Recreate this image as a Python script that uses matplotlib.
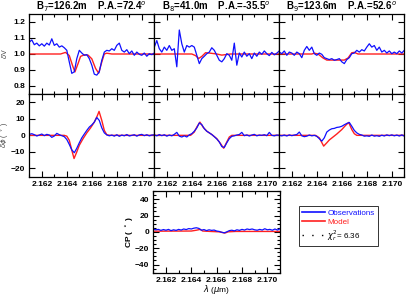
import numpy as np
import matplotlib
matplotlib.use("Agg")
import matplotlib.pyplot as plt
from matplotlib.lines import Line2D
from matplotlib.ticker import MultipleLocator

plt.rcParams['font.family'] = ['Liberation Sans', 'DejaVu Sans']

# wavelength grid of the observations (micron)
lam = np.round(np.linspace(2.1610, 2.1710, 51), 4)

titles = ["B$_7$=126.2m    P.A.=72.4$^o$",
          "B$_8$=41.0m    P.A.=-35.5$^o$",
          "B$_9$=123.6m    P.A.=52.6$^o$"]

# differential visibility, observed
v_obs_1 = [1.074, 1.088, 1.058, 1.068, 1.051, 1.064, 1.049, 1.068, 1.056, 1.095,
           1.054, 1.064, 1.043, 1.051, 1.039, 1.023, 0.950, 0.879, 0.889, 0.971,
           1.023, 1.006, 0.992, 0.996, 0.971, 0.930, 0.874, 0.868, 0.889, 0.961,
           1.012, 1.023, 1.019, 1.033, 1.023, 1.054, 1.068, 1.023, 1.012, 1.027,
           1.002, 1.019, 0.992, 1.012, 0.998, 0.992, 1.006, 0.986, 1.002, 0.996,
           1.006]
v_obs_2 = [1.043, 1.084, 1.033, 1.012, 1.043, 1.023, 1.053, 1.023, 1.033, 0.920,
           1.150, 1.064, 1.012, 1.053, 1.043, 1.053, 1.043, 0.992, 0.940, 0.971,
           0.986, 1.002, 1.012, 1.039, 1.023, 0.992, 0.961, 0.951, 0.971, 1.002,
           0.992, 0.961, 1.068, 0.930, 1.006, 0.981, 1.012, 0.986, 1.002, 0.971,
           1.006, 0.986, 1.012, 0.998, 1.019, 1.002, 0.990, 1.010, 0.995, 1.005,
           1.019]
v_obs_3 = [1.012, 1.002, 1.019, 0.992, 1.012, 1.006, 0.992, 1.012, 1.002, 0.977,
           1.023, 1.047, 1.023, 1.043, 1.002, 0.992, 1.006, 0.998, 0.977, 0.971,
           0.965, 0.971, 0.961, 0.965, 0.971, 0.951, 0.940, 0.965, 0.977, 1.002,
           1.006, 1.023, 1.012, 1.027, 1.019, 1.043, 1.064, 1.043, 1.053, 1.023,
           1.043, 1.012, 1.023, 1.006, 1.019, 1.002, 1.012, 1.002, 1.019, 1.006,
           1.023]

# differential visibility, model
v_mod_lam_1 = [2.1610, 2.1635, 2.1639, 2.1642, 2.16445, 2.16465, 2.1649, 2.1651, 2.1654,
               2.1657, 2.1660, 2.1663, 2.16655, 2.1668, 2.1670, 2.1672, 2.1676, 2.1710]
v_mod_1 = [1.0, 1.0, 1.01, 0.99, 0.93, 0.888, 0.94, 0.985, 0.995,
           0.993, 0.97, 0.91, 0.88, 0.95, 1.0, 1.005, 1.0, 1.0]
v_mod_lam_2 = [2.1610, 2.1640, 2.1643, 2.16455, 2.1648, 2.1651, 2.1654, 2.1660,
               2.1664, 2.1668, 2.1671, 2.1710]
v_mod_2 = [1.0, 1.0, 0.99, 0.972, 0.985, 1.008, 1.006, 1.0, 0.993, 0.997, 1.0, 1.0]
v_mod_lam_3 = [2.1610, 2.1636, 2.1638, 2.1641, 2.1645, 2.1648, 2.1662, 2.1665,
               2.1668, 2.1670, 2.1673, 2.1710]
v_mod_3 = [1.0, 1.0, 1.005, 1.0, 0.975, 0.962, 0.962, 0.975, 1.008, 1.01, 1.0, 1.0]

# differential phase (deg), observed
p_obs_1 = [0.6, 1.0, 0.4, -0.4, 0.2, 0.8, -0.2, 0.6, 0.2, -1.2,
           -0.4, 1.2, 0.4, -0.2, -0.8, -2.5, -5.5, -8.8, -10.5, -7.8,
           -4.5, -1.5, 0.8, 3.0, 5.0, 6.3, 8.0, 10.8, 9.0, 4.5,
           1.5, 0.3, -0.3, 0.2, -0.5, 0.4, -0.6, 0.2, -0.3, 0.5,
           -0.4, 0.0, 0.4, -0.5, 0.3, 0.6, -0.2, 0.4, -0.3, 0.2,
           0.3]
p_obs_2 = [0.3, -0.3, 0.5, -0.2, 0.4, -0.5, 0.2, -0.3, 0.6, 1.8,
           -0.5, -1.0, -0.3, -1.0, 0.3, 1.0, 2.5, 4.5, 7.5, 6.5,
           4.0, 2.5, 1.5, 0.5, -0.8, -2.2, -4.0, -6.8, -7.3, -4.5,
           -2.0, -0.6, -0.3, 0.2, 0.5, 1.8, -0.2, 0.3, -0.4, 0.2,
           0.6, -0.3, 0.2, 0.0, 0.4, -0.2, 1.8, 0.0, -0.3, 0.2,
           0.0]
p_obs_3 = [0.0, -0.3, 0.2, -0.4, 0.3, -0.2, 0.2, 0.5, 2.0, -0.3,
           -0.8, -0.5, 0.2, -0.3, 0.0, -0.6, -2.0, -3.5, -1.5, 2.0,
           3.2, 4.0, 4.2, 4.8, 5.0, 5.5, 6.4, 7.2, 7.8, 5.5,
           3.0, 1.5, 0.6, 0.2, -0.5, -0.3, -0.6, 0.2, -0.5, -0.2,
           -0.6, 0.1, -0.4, 0.3, -0.2, 0.3, -0.3, 0.2, -0.4, 0.3,
           -0.5]

# differential phase (deg), model
p_mod_lam_1 = [2.1610, 2.1638, 2.1640, 2.1642, 2.1644, 2.16458, 2.1648, 2.1650, 2.1653,
               2.1656, 2.1659, 2.1662, 2.16645, 2.16658, 2.1668, 2.1670, 2.1672, 2.1675, 2.1710]
p_mod_1 = [0, 0, -0.5, -3, -9, -14, -10, -6, -2,
           1.5, 4.5, 8, 12, 14.5, 9, 3, 0.3, 0, 0]
p_mod_lam_2 = [2.1610, 2.1639, 2.1642, 2.1644, 2.16465, 2.1649, 2.1652, 2.1656,
               2.1660, 2.1663, 2.16655, 2.1668, 2.1670, 2.1672, 2.1710]
p_mod_2 = [0, 0, 2, 5, 8, 5, 2.5, 0.5, -2, -5, -7.8, -4, -1, 0, 0]
p_mod_lam_3 = [2.1610, 2.1639, 2.1642, 2.16455, 2.1648, 2.1650, 2.1653, 2.1656,
               2.1660, 2.1663, 2.16655, 2.1668, 2.1670, 2.1672, 2.1710]
p_mod_3 = [0, 0, -1.5, -6.5, -4.5, -2.8, -1.0, 0.8, 3.5, 6.0, 7.8, 3.5, 1, 0, 0]

# closure phase (deg)
cp_obs = [3.5, 2.5, 3.0, 1.8, 2.8, 2.0, 3.0, 1.5, 2.5, 1.8,
          3.0, 2.2, 3.5, 2.8, 4.0, 3.5, 4.5, 5.0, 4.2, 2.0,
          2.8, 1.5, 2.5, 1.8, 2.2, 1.0, 0.5, -0.5, -1.2, 0.0,
          1.5, 2.0, 1.2, 2.5, 1.8, 3.0, 2.2, 3.5, 2.8, 3.5,
          2.5, 2.0, 3.0, 2.2, 3.8, 2.5, 3.0, 2.0, 3.5, 2.2,
          3.8]
cp_mod_lam = [2.1610, 2.1640, 2.1644, 2.1647, 2.1649, 2.1655, 2.1662, 2.16665,
              2.1669, 2.1675, 2.1710]
cp_mod = [0.8, 1.0, 2.0, 3.0, 1.0, 0.5, 0.0, -1.5, 0.0, 0.5, 0.5]

chi2 = 6.36

OBS_C = '#1010ff'
MOD_C = '#ff2020'
W, H = 407, 295

fig = plt.figure(figsize=(W / 100, H / 100), dpi=100)


def make_ax(x0, y0, x1, y1):
    return fig.add_axes([x0 / W, 1 - y1 / H, (x1 - x0) / W, (y1 - y0) / H])


def style(ax):
    ax.tick_params(which='both', direction='in', top=True, right=True,
                   labelsize=6, width=0.8, pad=3)
    ax.tick_params(which='major', length=4)
    ax.tick_params(which='minor', length=2)
    for s in ax.spines.values():
        s.set_linewidth(0.9)
    ax.set_xlim(2.161, 2.171)
    ax.xaxis.set_major_locator(MultipleLocator(0.002))
    ax.xaxis.set_minor_locator(MultipleLocator(0.001))
    ax.xaxis.set_major_formatter(plt.FormatStrFormatter('%.3f'))
    for lab in ax.get_xticklabels() + ax.get_yticklabels():
        lab.set_fontweight('bold')


xs = [29.3, 154.3, 279.3, 404.3]
v_obs = [v_obs_1, v_obs_2, v_obs_3]
v_mods = [(v_mod_lam_1, v_mod_1), (v_mod_lam_2, v_mod_2), (v_mod_lam_3, v_mod_3)]
p_obs = [p_obs_1, p_obs_2, p_obs_3]
p_mods = [(p_mod_lam_1, p_mod_1), (p_mod_lam_2, p_mod_2), (p_mod_lam_3, p_mod_3)]

for i in range(3):
    # visibility row
    ax = make_ax(xs[i], 14, xs[i + 1], 94)
    ax.plot(v_mods[i][0], v_mods[i][1], color=MOD_C, lw=1.0)
    ax.plot(lam, v_obs[i], color=OBS_C, lw=0.9)
    ax.set_ylim(0.75, 1.25)
    ax.yaxis.set_major_locator(MultipleLocator(0.1))
    style(ax)
    ax.tick_params(labelbottom=False)
    ax.set_title(titles[i], fontsize=7, fontweight='bold', pad=2)
    if i == 0:
        ax.yaxis.set_major_formatter(plt.FormatStrFormatter('%.1f'))
        ax.set_ylabel(r'$\delta$V', fontsize=5, color='#444444')
        ax.yaxis.set_label_coords(-20 / 125, 0.5)
    else:
        ax.tick_params(labelleft=False)

    # phase row
    ax = make_ax(xs[i], 94, xs[i + 1], 176.7)
    ax.plot(p_mods[i][0], p_mods[i][1], color=MOD_C, lw=1.0)
    ax.plot(lam, p_obs[i], color=OBS_C, lw=0.9)
    ax.set_ylim(-25, 25)
    ax.yaxis.set_major_locator(MultipleLocator(10))
    style(ax)
    if i == 0:
        ax.set_ylabel(r'$\delta\phi$ ( $^\circ$ )', fontsize=5, color='#444444')
        ax.yaxis.set_label_coords(-18 / 125, 0.5)
    else:
        ax.tick_params(labelleft=False)

# closure phase panel
ax = make_ax(153.3, 191, 280, 272.7)
ax.plot(cp_mod_lam, cp_mod, color=MOD_C, lw=1.0)
ax.plot(lam, cp_obs, color=OBS_C, lw=0.9)
ax.set_ylim(-50, 50)
ax.yaxis.set_major_locator(MultipleLocator(20))
ax.yaxis.set_minor_locator(MultipleLocator(5))
style(ax)
ax.set_ylabel(r'CP ( $^\circ$ )', fontsize=6, fontweight='bold')
ax.yaxis.set_label_coords(-17 / 126.7, 0.5)
ax.set_xlabel(r'$\lambda$ ($\mu$m)', fontsize=6)
ax.xaxis.set_label_coords(0.5, -(282.5 - 272.7) / 81.7)

handles = [Line2D([], [], color=OBS_C, lw=1.2),
           Line2D([], [], color=MOD_C, lw=1.2),
           Line2D([], [], color='black', lw=1.0, linestyle=(0, (1, 6)))]
labels = ['Observations', 'Model', r'$\chi_r^2$= %.2f' % chi2]
leg = fig.legend(handles, labels, loc='upper left',
                 bbox_to_anchor=(299 / W, 1 - 206 / H), fontsize=5.8,
                 frameon=True, fancybox=False, edgecolor='black',
                 handlelength=2.8, handletextpad=0.3, borderpad=0.4,
                 labelspacing=0.2, borderaxespad=0)
leg.get_frame().set_linewidth(0.7)
for t, c in zip(leg.get_texts(), [OBS_C, MOD_C, 'black']):
    t.set_color(c)

fig.savefig('out.png', dpi=100)
